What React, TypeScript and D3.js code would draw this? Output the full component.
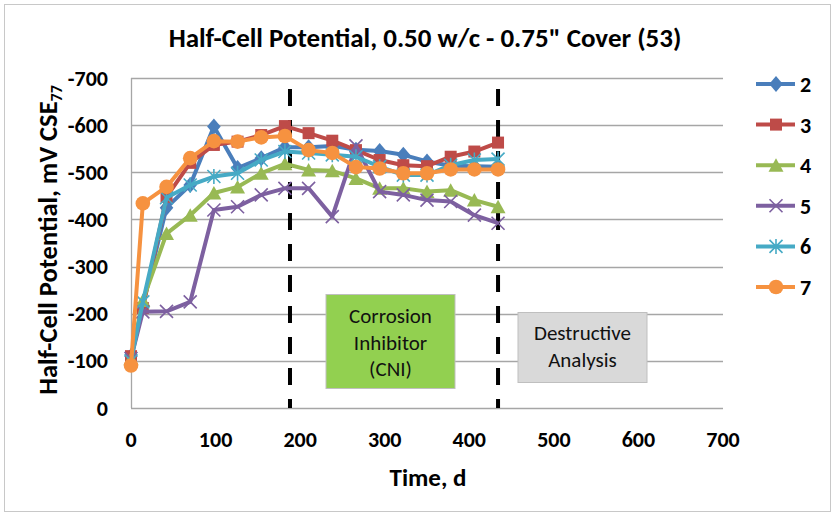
import React from "react";
import * as d3 from "d3";

const days = [0, 14, 42, 70, 98, 126, 154, 182, 210, 238, 266, 294, 322, 350, 378, 406, 434];
const seriesNames = ["2", "3", "4", "5", "6", "7"];
const s2 = [-110, -218, -425, -473, -597, -509, -530, -553, -553, -556, -548, -545, -537, -523, -514, -513, -512];
const s3 = [-110, -212, -448, -520, -558, -565, -579, -598, -583, -567, -547, -526, -515, -513, -533, -544, -563];
const s4 = [-105, -228, -370, -409, -456, -469, -498, -518, -505, -503, -487, -466, -466, -459, -462, -441, -427];
const s5 = [-105, -204, -205, -225, -420, -427, -452, -466, -466, -406, -556, -459, -452, -441, -438, -409, -392];
const s6 = [-100, -225, -446, -473, -491, -498, -526, -544, -541, -537, -533, -512, -494, -494, -515, -526, -528];
const s7 = [-90, -434, -469, -530, -566, -565, -574, -577, -547, -541, -511, -508, -498, -498, -506, -506, -506];
const seriesValues = [s2, s3, s4, s5, s6, s7];
const colors = ["#4a7ebb", "#be4b48", "#98b954", "#7d60a0", "#46aac5", "#f69240"];
const markers = ["diamond", "square", "triangle", "x", "star", "circle"];
const xTicks = [0, 100, 200, 300, 400, 500, 600, 700];
const yTicks = [0, -100, -200, -300, -400, -500, -600, -700];
const phaseLines = [188, 434];

const FONT = "Carlito, Calibri, Lato, 'Open Sans', sans-serif";

function Marker({ type, x, y, color }: { type: string; x: number; y: number; color: string }) {
  if (type === "circle") return <circle cx={x} cy={y} r={7.3} fill={color} />;
  if (type === "x") {
    const s = 6.5;
    return (
      <path d={`M${x - s},${y - s}L${x + s},${y + s}M${x - s},${y + s}L${x + s},${y - s}`} stroke={color} strokeWidth={1.6} fill="none" />
    );
  }
  if (type === "star") {
    const s = 6.5;
    return (
      <path
        d={`M${x - s},${y - s}L${x + s},${y + s}M${x - s},${y + s}L${x + s},${y - s}M${x},${y - s - 1}L${x},${y + s + 1}`}
        stroke={color}
        strokeWidth={1.6}
        fill="none"
      />
    );
  }
  if (type === "diamond") {
    return <path d={`M${x},${y - 8}L${x + 6.8},${y}L${x},${y + 8}L${x - 6.8},${y}Z`} fill={color} />;
  }
  if (type === "square") {
    return <rect x={x - 6} y={y - 6} width={12} height={12} fill={color} />;
  }
  return <path d={`M${x},${y - 7}L${x + 7.5},${y + 6.5}L${x - 7.5},${y + 6.5}Z`} fill={color} />;
}

export default function App() {
  const W = 834;
  const H = 515;
  const x = d3.scaleLinear().domain([0, 700]).range([131, 723]);
  const y = d3.scaleLinear().domain([0, -700]).range([408, 78]);
  const line = d3
    .line<number>()
    .x((_, i) => x(days[i]))
    .y((v) => y(v));

  const legendY = d3.scalePoint<string>().domain(seriesNames).range([84, 287]);

  return (
    <div style={{ position: "absolute", left: 0, top: 0 }}>
      <svg width={W} height={H} style={{ display: "block", fontFamily: FONT }}>
        <rect x={0} y={0} width={W} height={H} fill="#fff" />
        <rect x={4.5} y={4.5} width={826} height={507} fill="none" stroke="#c8c8c8" />

        {/* gridlines */}
        {yTicks.map((t) => (
          <line key={t} x1={x(0)} x2={x(700)} y1={Math.round(y(t)) + 0.5} y2={Math.round(y(t)) + 0.5} stroke="#a6a6a6" strokeWidth={1.3} />
        ))}
        <line x1={x(0) + 0.5} x2={x(0) + 0.5} y1={y(-700)} y2={y(0)} stroke="#a6a6a6" strokeWidth={1.3} />

        {/* annotation boxes */}
        <rect x={326} y={294.5} width={129} height={94} fill="#92d050" stroke="#bfbfbf" />
        <text x={390.5} y={323} textAnchor="middle" fontSize={21} fill="#111">Corrosion</text>
        <text x={390.5} y={349.5} textAnchor="middle" fontSize={21} fill="#111">Inhibitor</text>
        <text x={390.5} y={376} textAnchor="middle" fontSize={21} fill="#111">(CNI)</text>

        <rect x={518} y={312.5} width={129} height={70} fill="#d9d9d9" stroke="#bfbfbf" />
        <text x={582.5} y={340} textAnchor="middle" fontSize={21} fill="#111">Destructive</text>
        <text x={582.5} y={366.5} textAnchor="middle" fontSize={21} fill="#111">Analysis</text>

        {/* phase lines */}
        {phaseLines.map((d) => (
          <line key={d} x1={x(d)} x2={x(d)} y1={89} y2={408} stroke="#000" strokeWidth={4} strokeDasharray="17,14" />
        ))}

        {/* series */}
        {seriesValues.map((vals, si) => (
          <g key={si}>
            <path d={line(vals) as string} fill="none" stroke={colors[si]} strokeWidth={4} strokeLinejoin="round" />
            {vals.map((v, i) => (
              <Marker key={i} type={markers[si]} x={x(days[i])} y={y(v)} color={colors[si]} />
            ))}
          </g>
        ))}

        {/* y ticks */}
        {yTicks.map((t) => (
          <text key={t} x={108} y={y(t) + 7.5} textAnchor="end" fontSize={22} fontWeight="bold" fill="#000">
            {t === 0 ? "0" : String(t)}
          </text>
        ))}
        {/* x ticks */}
        {xTicks.map((t) => (
          <text key={t} x={x(t)} y={447} textAnchor="middle" fontSize={22} fontWeight="bold" fill="#000">
            {t}
          </text>
        ))}

        {/* titles */}
        <text x={425} y={47} textAnchor="middle" fontSize={27} fontWeight="bold" fill="#000">
          Half-Cell Potential, 0.50 w/c - 0.75" Cover (53)
        </text>
        <text x={428} y={486} textAnchor="middle" fontSize={25} fontWeight="bold" fill="#000">
          Time, d
        </text>
        <text transform="translate(57,240) rotate(-90)" textAnchor="middle" fontSize={26.5} fontWeight="bold" fill="#000">
          Half-Cell Potential, mV CSE
          <tspan fontSize={16} dy={5}>77</tspan>
        </text>

        {/* legend */}
        {seriesNames.map((n, si) => {
          const ly = legendY(n) as number;
          return (
            <g key={n}>
              <line x1={756} x2={795} y1={ly} y2={ly} stroke={colors[si]} strokeWidth={4} />
              <Marker type={markers[si]} x={776} y={ly} color={colors[si]} />
              <text x={800} y={ly + 8} fontSize={22} fontWeight="bold" fill="#000">
                {n}
              </text>
            </g>
          );
        })}
      </svg>
    </div>
  );
}
